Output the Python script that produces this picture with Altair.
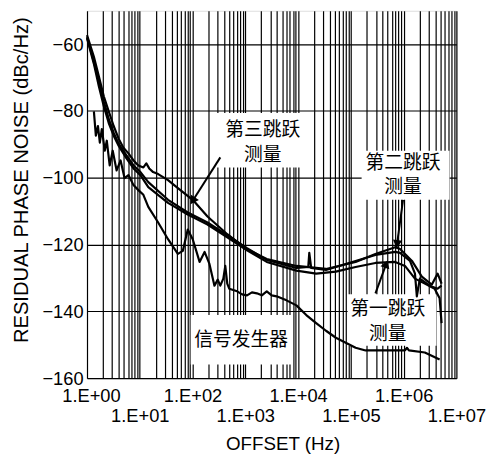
import altair as alt
import pandas as pd

# ---- curve data (offset in Hz, residual phase noise in dBc/Hz) ----
HOP3_F = [1.0, 1.35, 1.68, 2.08, 2.58, 3.2, 3.97, 4.9, 6.1, 7.6, 9.4, 11.7, 13.3, 15.1, 17.9, 22.3, 34.3, 52.7,
          100.7, 192, 455, 1077, 2549, 9290, 33.8e3, 123e3, 292e3, 691e3, 857e3, 1.44e6, 2.21e6, 3.41e6, 4.41e6, 5.24e6]
HOP3_DB = [-57.3, -63.8, -69.7, -75.6, -80.1, -84.5, -88.3, -91.0, -92.7, -94.8, -96.3, -96.9, -95.7, -97.2, -98.3,
           -98.9, -100.7, -103.1, -106.6, -111.6, -116.9, -121.4, -124.3, -126.4, -127.3, -125.2, -122.8, -120.8,
           -121.3, -124.9, -129.6, -132.0, -128.7, -131.7]

HOP2_F = [1.0, 1.35, 1.68, 2.08, 2.58, 3.2, 3.97, 5.6, 7.6, 10.3, 14.5, 34.3, 81.1, 192, 455, 1077, 2549, 9290,
          15.6e3, 16.3e3, 17.7e3, 33.8e3, 123e3, 292e3, 691e3, 857e3, 1.32e6, 1.64e6, 1.78e6, 2.03e6, 3.12e6,
          4.41e6, 5.24e6]
HOP2_DB = [-57.9, -65.3, -71.2, -77.1, -82.4, -86.5, -89.8, -93.3, -96.3, -98.3, -101.3, -106.6, -110.4, -113.4,
           -117.2, -121.1, -124.6, -127.0, -126.7, -122.5, -127.0, -127.6, -124.9, -123.1, -122.2, -122.5, -124.9,
           -128.7, -135.5, -130.2, -132.3, -133.2, -132.3]

HOP1_F = [1.0, 1.35, 1.68, 2.08, 2.58, 3.2, 3.97, 5.6, 7.6, 10.3, 14.5, 34.3, 81.1, 192, 455, 1077, 2549, 9290,
          22e3, 52e3, 123e3, 292e3, 691e3, 1.06e6, 1.64e6, 2.52e6, 3.87e6, 4.81e6, 5.24e6]
HOP1_DB = [-58.2, -65.9, -72.7, -78.6, -83.6, -87.4, -90.4, -94.2, -97.2, -99.2, -102.8, -107.5, -111.0, -114.0,
           -117.8, -121.7, -125.2, -127.8, -128.7, -128.1, -126.7, -125.5, -125.2, -126.4, -130.2, -131.7, -133.2,
           -136.1, -143.5]

SIG_F = [1.35, 1.47, 1.61, 1.75, 1.91, 2.17, 2.37, 2.69, 3.07, 3.64, 4.33, 5.14, 6.1, 7.6, 9.4, 11.7, 14.5, 22.3,
         34.3, 52.7, 65.3, 81.1, 100.7, 136, 169, 209, 260, 300, 336, 383, 417, 455, 496, 700, 868, 1077, 1336,
         1657, 2055, 2549, 3162, 3922, 6036, 9290, 14.3e3, 22e3, 33.8e3, 52e3, 80e3, 123e3, 190e3, 449e3,
         1.06e6, 1.16e6, 1.26e6, 2.52e6, 4.81e6]
SIG_DB = [-80.1, -87.4, -84.5, -89.5, -85.4, -91.9, -88.9, -96.3, -91.9, -97.8, -94.8, -100.1, -99.2, -102.2,
          -103.7, -105.1, -108.7, -113.4, -118.4, -122.8, -121.9, -115.5, -118.4, -125.2, -122.2, -125.8, -132.3,
          -130.5, -132.3, -130.2, -126.4, -131.7, -133.2, -134.0, -134.9, -135.2, -134.3, -134.6, -135.2, -134.0,
          -135.2, -135.5, -136.7, -138.2, -141.1, -143.5, -145.8, -147.9, -149.4, -150.9, -151.7, -151.7, -151.7,
          -150.9, -151.7, -152.3, -154.4]

# ---- axis ticks ----
X_DECADES = [1, 10, 100, 1000, 1e4, 1e5, 1e6, 1e7]
X_GRID = [m * d for d in X_DECADES[:-1] for m in range(1, 10)] + [1e7]
Y_TICKS = [-160, -140, -120, -100, -80, -60]

# ---- annotations ----
BOX_X1 = [238, 1.6e5, 8.7e4, 92.3]
BOX_X2 = [15.6e3, 7.4e6, 4.2e6, 7.8e3]
BOX_Y1 = [-80.6, -91.9, -134.9, -141.1]
BOX_Y2 = [-96.9, -106.6, -150.3, -155.9]

TXT = ["第三跳跃", "测量", "第二跳跃", "测量", "第一跳跃", "测量", "信号发生器"]
TXT_F = [2145, 2145, 9.75e5, 9.75e5, 5.0e5, 5.0e5, 832]
TXT_DB = [-85.6, -93.3, -95.5, -102.8, -139.4, -146.8, -148.5]

ARR_F1 = [336, 9.75e5, 2.92e5]
ARR_DB1 = [-93.9, -106.6, -134.6]
ARR_F2 = [100.7, 7.5e5, 4.69e5]
ARR_DB2 = [-106.9, -119.9, -125.8]
ARR_ANG = [213, 188, 20]

rows = []
for name, fs, dbs in [("hop3", HOP3_F, HOP3_DB), ("hop2", HOP2_F, HOP2_DB),
                      ("hop1", HOP1_F, HOP1_DB), ("sig", SIG_F, SIG_DB)]:
    for i, (f, d) in enumerate(zip(fs, dbs)):
        rows.append({"series": name, "i": i, "f": f, "db": d})
curves = pd.DataFrame(rows)
boxes = pd.DataFrame({"x1": BOX_X1, "x2": BOX_X2, "y1": BOX_Y1, "y2": BOX_Y2})
texts = pd.DataFrame({"t": TXT, "f": TXT_F, "db": TXT_DB})
arrows = pd.DataFrame({"f1": ARR_F1, "db1": ARR_DB1, "f2": ARR_F2, "db2": ARR_DB2, "ang": ARR_ANG})

FONT = "Liberation Sans"
xscale = alt.Scale(type="log", domain=[1, 1e7], nice=False)
yscale = alt.Scale(domain=[-160, -50], nice=False, zero=False)

e = "(log(datum.value)/LN10)"
xaxis = alt.Axis(
    values=X_GRID, grid=True, gridColor="black", gridOpacity=1, gridWidth=1.2,
    ticks=False, domain=False, labelOverlap=False, labelFlush=False,
    labelExpr=f"abs({e} - round({e})) < 0.001 ? '1.E+0' + round({e}) : ''",
    labelPadding={"condition": {"test": f"round({e}) % 2 == 1", "value": 29}, "value": 9},
    labelOffset={"condition": {"test": "datum.value == 1", "value": 4}, "value": 0},
    labelFont=FONT, labelFontSize=18.5, labelColor="black",
    title="OFFSET (Hz)", titleFont=FONT, titleFontSize=19, titleFontWeight="normal",
    titleColor="black", titleX=198, titleY=66, titleBaseline="middle",
)
yaxis = alt.Axis(
    values=Y_TICKS, grid=True, gridColor="black", gridOpacity=1, gridWidth=1.2,
    ticks=False, domain=False, labelPadding=4,
    labelFont=FONT, labelFontSize=18.5, labelColor="black",
    title="RESIDUAL PHASE NOISE (dBc/Hz)", titleFont=FONT, titleFontSize=20.4,
    titleFontWeight="normal", titleColor="black", titleX=-66, titleY=171, titleBaseline="middle",
)

base_rect = alt.Chart(boxes).mark_rect(fill="white", stroke=None).encode(
    x=alt.X("x1:Q", scale=xscale, axis=xaxis), x2="x2:Q",
    y=alt.Y("y1:Q", scale=yscale, axis=yaxis), y2="y2:Q",
)

lines = alt.Chart(curves).mark_line(color="black", strokeWidth=2.2, strokeJoin="round").encode(
    x=alt.X("f:Q", scale=xscale, axis=xaxis),
    y=alt.Y("db:Q", scale=yscale, axis=yaxis),
    detail="series:N", order="i:Q",
)

labels = alt.Chart(texts).mark_text(font="Noto Sans CJK SC", fontSize=19, color="black").encode(
    x=alt.X("f:Q", scale=xscale, axis=xaxis),
    y=alt.Y("db:Q", scale=yscale, axis=yaxis),
    text="t:N",
)

shafts = alt.Chart(arrows).mark_rule(color="black", strokeWidth=2).encode(
    x=alt.X("f1:Q", scale=xscale, axis=xaxis), x2="f2:Q",
    y=alt.Y("db1:Q", scale=yscale, axis=yaxis), y2="db2:Q",
)
heads = alt.Chart(arrows).mark_point(shape="triangle-up", filled=True, size=90, color="black", opacity=1).encode(
    x=alt.X("f2:Q", scale=xscale, axis=xaxis),
    y=alt.Y("db2:Q", scale=yscale, axis=yaxis),
    angle=alt.Angle("ang:Q", scale=None),
)

chart = alt.layer(base_rect, lines, labels, shafts, heads).properties(
    width=374, height=372,
    autosize=alt.AutoSizeParams(type="none"),
    padding={"left": 80, "top": 0, "right": 32, "bottom": 76},
).configure_view(stroke="black", strokeWidth=1.5).configure(background="white")

chart.save("out.html", embed_options={"renderer": "svg", "actions": False})
